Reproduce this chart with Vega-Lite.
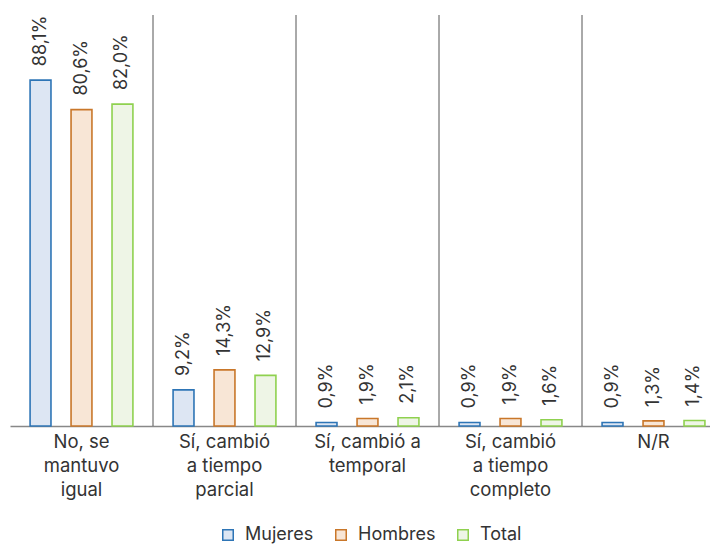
{
  "$schema": "https://vega.github.io/schema/vega-lite/v6.json",
  "width": 715,
  "height": 411,
  "autosize": {"type": "none"},
  "padding": {"left": 10, "top": 15, "right": 0, "bottom": 119},
  "background": "white",
  "config": {
    "view": {"stroke": null},
    "font": "Inter",
    "text": {"font": "Inter"}
  },
  "datasets": {
    "bars": [
      {"cat": "No, se mantuvo igual", "serie": "Mujeres", "valor": 88.1, "label": "88,1%"},
      {"cat": "No, se mantuvo igual", "serie": "Hombres", "valor": 80.6, "label": "80,6%"},
      {"cat": "No, se mantuvo igual", "serie": "Total", "valor": 82.0, "label": "82,0%"},
      {"cat": "Sí, cambió a tiempo parcial", "serie": "Mujeres", "valor": 9.2, "label": "9,2%"},
      {"cat": "Sí, cambió a tiempo parcial", "serie": "Hombres", "valor": 14.3, "label": "14,3%"},
      {"cat": "Sí, cambió a tiempo parcial", "serie": "Total", "valor": 12.9, "label": "12,9%"},
      {"cat": "Sí, cambió a temporal", "serie": "Mujeres", "valor": 0.9, "label": "0,9%"},
      {"cat": "Sí, cambió a temporal", "serie": "Hombres", "valor": 1.9, "label": "1,9%"},
      {"cat": "Sí, cambió a temporal", "serie": "Total", "valor": 2.1, "label": "2,1%"},
      {"cat": "Sí, cambió a tiempo completo", "serie": "Mujeres", "valor": 0.9, "label": "0,9%"},
      {"cat": "Sí, cambió a tiempo completo", "serie": "Hombres", "valor": 1.9, "label": "1,9%"},
      {"cat": "Sí, cambió a tiempo completo", "serie": "Total", "valor": 1.6, "label": "1,6%"},
      {"cat": "N/R", "serie": "Mujeres", "valor": 0.9, "label": "0,9%"},
      {"cat": "N/R", "serie": "Hombres", "valor": 1.3, "label": "1,3%"},
      {"cat": "N/R", "serie": "Total", "valor": 1.4, "label": "1,4%"}
    ],
    "seps": [
      {"cat": "Sí, cambió a tiempo parcial"},
      {"cat": "Sí, cambió a temporal"},
      {"cat": "Sí, cambió a tiempo completo"},
      {"cat": "N/R"}
    ]
  },
  "layer": [
    {
      "data": {"name": "seps"},
      "mark": {"type": "rule", "color": "#555555", "strokeWidth": 1},
      "encoding": {
        "x": {"field": "cat", "type": "nominal", "bandPosition": 0, "sort": null}
      }
    },
    {
      "data": {"name": "bars"},
      "mark": {"type": "bar", "strokeWidth": 1.6},
      "encoding": {
        "x": {
          "field": "cat", "type": "nominal", "sort": null,
          "scale": {
            "domain": ["No, se mantuvo igual", "Sí, cambió a tiempo parcial", "Sí, cambió a temporal", "Sí, cambió a tiempo completo", "N/R"],
            "paddingInner": 0, "paddingOuter": 0
          },
          "axis": {
            "title": null,
            "labelAngle": 0,
            "labelAlign": "center",
            "ticks": false,
            "domainColor": "#888888",
            "domainWidth": 1.5,
            "labelFontSize": 18.5,
            "labelColor": "#333333",
            "labelPadding": 6,
            "labelLineHeight": 24,
            "labelBaseline": "top",
            "labelExpr": "datum.value == 'No, se mantuvo igual' ? ['No, se', 'mantuvo', 'igual'] : datum.value == 'Sí, cambió a tiempo parcial' ? ['Sí, cambió', 'a tiempo', 'parcial'] : datum.value == 'Sí, cambió a temporal' ? ['Sí, cambió a', 'temporal'] : datum.value == 'Sí, cambió a tiempo completo' ? ['Sí, cambió', 'a tiempo', 'completo'] : datum.value"
          }
        },
        "xOffset": {
          "field": "serie", "type": "nominal", "sort": ["Mujeres", "Hombres", "Total"],
          "scale": {"paddingInner": 0.49, "paddingOuter": 0.49}
        },
        "y": {
          "field": "valor", "type": "quantitative",
          "scale": {"domain": [0, 104.7], "nice": false, "zero": true},
          "axis": null
        },
        "fill": {
          "field": "serie", "type": "nominal",
          "sort": ["Mujeres", "Hombres", "Total"],
          "scale": {"domain": ["Mujeres", "Hombres", "Total"], "range": ["#dde6f3", "#f8e6d6", "#eef5e6"]},
          "legend": {
            "title": null,
            "orient": "none",
            "legendX": 209,
            "legendY": 511,
            "direction": "horizontal",
            "symbolType": "square",
            "symbolSize": 110,
            "symbolStrokeWidth": 1.5,
            "labelFontSize": 18,
            "labelColor": "#333333",
            "labelOffset": 8,
            "columnPadding": 18,
            "encode": {
              "symbols": {
                "update": {
                  "stroke": {"signal": "datum.label === 'Mujeres' ? '#4d664d' : scale('stroke', datum.value)"},
                  "fill": {"signal": "datum.label === 'Mujeres' ? '#e0e8dd' : scale('fill', datum.value)"}
                }
              }
            }
          }
        },
        "stroke": {
          "field": "serie", "type": "nominal",
          "sort": ["Mujeres", "Hombres", "Total"],
          "scale": {"domain": ["Mujeres", "Hombres", "Total"], "range": ["#2e75b6", "#c9772a", "#8fd14f"]},
          "legend": null
        }
      }
    },
    {
      "data": {"name": "bars"},
      "mark": {"type": "text", "angle": -90, "align": "left", "baseline": "middle", "dx": 14, "fontSize": 18, "color": "#333333"},
      "encoding": {
        "x": {"field": "cat", "type": "nominal", "sort": null},
        "xOffset": {"field": "serie", "type": "nominal", "sort": ["Mujeres", "Hombres", "Total"]},
        "y": {"field": "valor", "type": "quantitative"},
        "text": {"field": "label"}
      }
    }
  ]
}
